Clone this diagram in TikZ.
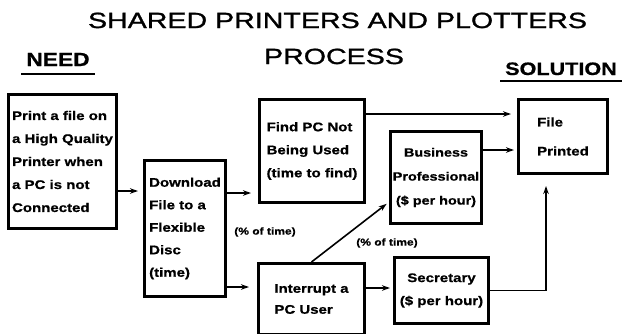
\documentclass[tikz,border=0pt]{standalone}
\usepackage{fontspec}
\setmainfont{Liberation Sans}
\newfontfamily\titlefont[FakeStretch=1.3,FakeBold=1.2]{Liberation Sans}
\newfontfamily\boxfont[FakeStretch=1.2,FakeBold=0.8]{Liberation Sans}
\usetikzlibrary{arrows.meta}

\tikzset{
  box/.style={draw, line width=2.6pt, inner sep=0pt, align=left,
    font=\boxfont\bfseries\fontsize{12.5}{23}\selectfont},
  dims/.style 2 args={minimum width=#1pt, minimum height=#2pt},
  arr/.style={line width=1.6pt, -{Stealth[length=8pt,width=5.5pt]}},
  head/.style={inner xsep=5pt, inner ysep=0pt, anchor=base,
    font=\boxfont\bfseries\fontsize{19}{22}\selectfont},
  uline/.style={line width=2.2pt},
  note/.style={font=\boxfont\bfseries\fontsize{10}{12}\selectfont}
}

\begin{document}
\begin{tikzpicture}[x=1pt,y=-1pt]
\useasboundingbox (0,0) rectangle (622,333);

% headings
\node[anchor=base, font=\titlefont\fontsize{22}{25}\selectfont] (title) at (337.5,28) {SHARED PRINTERS AND PLOTTERS};
\node[anchor=base, font=\titlefont\fontsize{22}{25}\selectfont] (process) at (334,64) {PROCESS};
\node[head] (needhd) at (58,66) {NEED};
\node[head, font=\boxfont\bfseries\fontsize{18}{22}\selectfont] (solhd) at (561,75) {SOLUTION};
\draw[uline] ([yshift=-8pt]needhd.base west) -- ([yshift=-8pt]needhd.base east);
\draw[uline] ([yshift=-6pt]solhd.base west) -- ([yshift=-6pt]solhd.base east);

% boxes
\node[box, dims={108.4}{134.4}] (need) at (62.5,161.5)
  {Print a file on\\a High Quality\\Printer when\\a PC is not\\Connected};
\node[box, dims={81.4}{136.4}, font=\boxfont\bfseries\fontsize{12.5}{22.5}\selectfont] (download) at (185,228.5)
  {Download\\File to a\\Flexible\\Disc\\(time)};
\node[box, dims={105.4}{103.4}] (find) at (312,151)
  {Find PC Not\\Being Used\\(time to find)};
\node[box, dims={91.4}{92.4}, align=center, font=\boxfont\bfseries\fontsize{12}{24}\selectfont] (business) at (436,177.5)
  {Business\\Professional\\(\$ per hour)};
\node[box, dims={106.4}{71.4}, font=\boxfont\bfseries\fontsize{12.5}{21}\selectfont] (interrupt) at (311.5,299)
  {Interrupt a\\PC User};
\node[box, dims={94.4}{66.4}, align=center] (secretary) at (441.5,290.5)
  {Secretary\\(\$ per hour)};
\node[box, dims={89.4}{74.4}, font=\boxfont\bfseries\fontsize{12.5}{29}\selectfont] (file) at (563,136.5)
  {File\\Printed};

% labels
\node[note] (pct1) at (265,232) {(\% of time)};
\node[note] (pct2) at (387,243) {(\% of time)};

% connectors
\draw[arr, shorten >=5pt] ([yshift=-29.5pt]need.east) -- ([yshift=-29.5pt]need.east -| download.west);
\draw[arr, shorten >=7pt] ([yshift=35.5pt]download.east) -- ([yshift=35.5pt]download.east -| find.west);
\draw[arr, shorten >=8pt] ([yshift=-58.5pt]download.east) -- ([yshift=-58.5pt]download.east -| interrupt.west);
\draw[arr, shorten >=6pt] ([yshift=37pt]find.east) -- ([yshift=37pt]find.east -| file.west);
\draw[arr, shorten >=3pt] ([yshift=27.5pt]business.east) -- ([yshift=27.5pt]business.east -| file.west);
\draw[arr, shorten >=3pt] (interrupt.north) -- ([yshift=-24.5pt]business.west);
\draw[arr, shorten >=3pt] ([yshift=11pt]interrupt.east) -- ([yshift=11pt]interrupt.east -| secretary.west);
\draw[arr, shorten >=11pt] (secretary.east) -| ([xshift=-17pt]file.south);
\end{tikzpicture}
\end{document}
